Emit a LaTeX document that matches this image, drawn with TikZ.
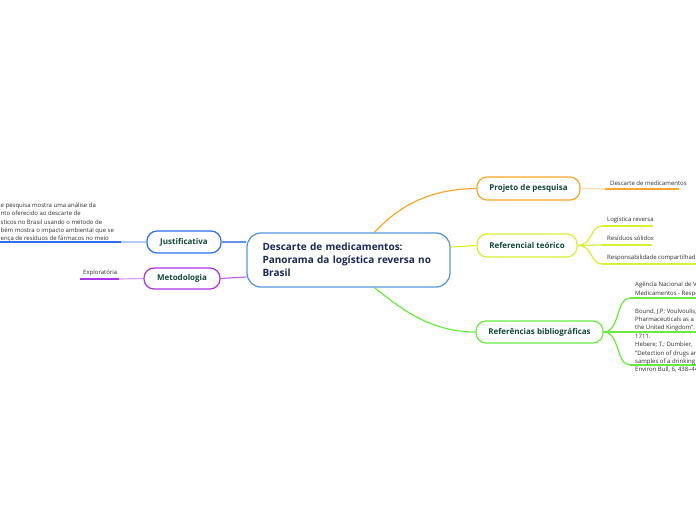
\documentclass[tikz,border=0pt]{standalone}
\usepackage{fontspec}
\setmainfont{Open Sans}
\usetikzlibrary{calc}
\pgfdeclarelayer{back}
\pgfdeclarelayer{bg}
\pgfsetlayers{back,bg,main}
\definecolor{cblue}{RGB}{86,152,222}
\definecolor{navy}{RGB}{26,38,84}
\definecolor{dgreen}{RGB}{18,72,58}
\definecolor{corange}{RGB}{248,168,45}
\definecolor{lorange}{RGB}{252,222,175}
\definecolor{cyellow}{RGB}{214,240,50}
\definecolor{cgreen}{RGB}{104,236,64}
\definecolor{jblue}{RGB}{45,110,240}
\definecolor{ljblue}{RGB}{180,205,245}
\definecolor{cpurple}{RGB}{172,50,232}
\definecolor{lpurple}{RGB}{215,165,245}
\definecolor{ctext}{RGB}{45,45,45}
\begin{document}
\begin{tikzpicture}[x=1pt,y=-1pt,
  topic/.style={draw=cblue, line width=1.3pt, rounded corners=14pt, fill=white,
    minimum width=203pt, minimum height=54pt, text width=172pt, align=left,
    inner sep=0pt, font=\fontsize{10}{13}\selectfont\bfseries, text=navy},
  branch/.style={draw, line width=1.2pt, rounded corners=10pt, fill=white,
    inner sep=0pt, font=\fontsize{8}{10}\selectfont\bfseries, text=dgreen},
  leaf/.style={inner sep=0pt, anchor=south west, align=left, text depth=0pt,
    font=\fontsize{6}{8.4}\selectfont, text=ctext},
  link/.style={line width=1.2pt},
  uline/.style={line width=1.5pt},
]
\useasboundingbox (0,0) rectangle (696,520);
\begin{pgfonlayer}{back}
\fill[white] (0,0) rectangle (696,520);
\end{pgfonlayer}

% main topic and branches
\node[topic] (central) at (348.5,260) {Descarte de medicamentos:\\Panorama da logística reversa no\\Brasil};
\node[branch, draw=corange, minimum width=103pt, minimum height=23pt] (proj) at (528.5,188.5) {Projeto de pesquisa};
\node[branch, draw=cyellow, minimum width=100pt, minimum height=23pt] (ref) at (527,245.5) {Referencial teórico};
\node[branch, draw=cgreen, minimum width=127pt, minimum height=22pt] (refb) at (539.5,332) {Referências bibliográficas};
\node[branch, draw=jblue, minimum width=74pt, minimum height=22pt] (just) at (184,242) {Justificativa};
\node[branch, draw=cpurple, minimum width=76pt, minimum height=21pt] (met) at (182,278.5) {Metodologia};

% leaves
\node[leaf] (l1) at (610,185.5) {Descarte de medicamentos};
\node[leaf] (r1t) at (607,222) {Logística reversa};
\node[leaf] (r2t) at (607,240.5) {Resíduos sólidos};
\node[leaf] (r3t) at (607,260) {Responsabilidade compartilhada};
\node[leaf] (q1t) at (635,295.5) {Agência Nacional de V\\Medicamentos - Respo};
\node[leaf] (q2t) at (635,338.5) {Bound, J.P; Voulvoulis,\\Pharmaceuticals as a\\the United Kingdom". I\\1711.};
\node[leaf] (q3t) at (635,372) {Hebere; T.; Dumbier,\\"Detection of drugs an\\samples of a drinking\\Environ Bull, 6, 438–44};
\node[leaf] (jt) at (0.5,241) {e pesquisa mostra uma análise da\\nto oferecido ao descarte de\\sticos no Brasil usando o método de\\bém mostra o impacto ambiental que se\\ença de resíduos de fármacos no meio};
\node[leaf] (mt) at (83,275) {Exploratória};

% line coordinates
\coordinate (p1) at (605,189); \coordinate (p1e) at (679,189);
\coordinate (r1) at (602,226); \coordinate (r1e) at (653,226);
\coordinate (r2) at (602,245); \coordinate (r2e) at (652,245);
\coordinate (r3) at (602,264); \coordinate (r3e) at (700,264);
\coordinate (q1) at (630,298); \coordinate (q1e) at (700,298);
\coordinate (q2) at (630,332); \coordinate (q2e) at (700,332);
\coordinate (q3) at (630,365); \coordinate (q3e) at (700,365);
\coordinate (j1) at (121,242); \coordinate (j0) at (-2,242);
\coordinate (m1) at (119,279); \coordinate (m0) at (80,279);

\begin{pgfonlayer}{bg}
% topic to branches
\draw[link, corange] ($(central.north)+(26,0)$) .. controls (400,205) and (430,189) .. (proj.west);
\draw[link, cyellow] ($(central.east)+(0,-13)$) -- (ref.west);
\draw[link, cgreen] ($(central.south)+(26,0)$) .. controls (398,306) and (428,332) .. (refb.west);
\draw[link, jblue!75] ($(central.west)+(0,-18)$) -- (just.east);
\draw[link, cpurple!75] ($(central.west)+(0,17)$) -- (met.east);
% branches to leaves
\draw[link, lorange] (proj.east) -- (p1);
\draw[uline, corange] (p1) -- (p1e);
\draw[link, cyellow] (ref.east) .. controls (593,245) and (590,226) .. (r1);
\draw[link, cyellow] (ref.east) -- (r2);
\draw[link, cyellow] (ref.east) .. controls (593,245) and (590,264) .. (r3);
\draw[uline, cyellow] (r1) -- (r1e);
\draw[uline, cyellow] (r2) -- (r2e);
\draw[uline, cyellow] (r3) -- (r3e);
\draw[link, cgreen] (refb.east) .. controls (620,332) and (616,298) .. (q1);
\draw[link, cgreen] (refb.east) -- (q2);
\draw[link, cgreen] (refb.east) .. controls (620,332) and (616,365) .. (q3);
\draw[uline, cgreen] (q1) -- (q1e);
\draw[uline, cgreen] (q2) -- (q2e);
\draw[uline, cgreen] (q3) -- (q3e);
\draw[link, ljblue] (just.west) -- (j1);
\draw[line width=2pt, jblue] (j1) -- (j0);
\draw[link, lpurple] (met.west) -- (m1);
\draw[uline, cpurple] (m1) -- (m0);
\end{pgfonlayer}
\end{tikzpicture}
\end{document}
